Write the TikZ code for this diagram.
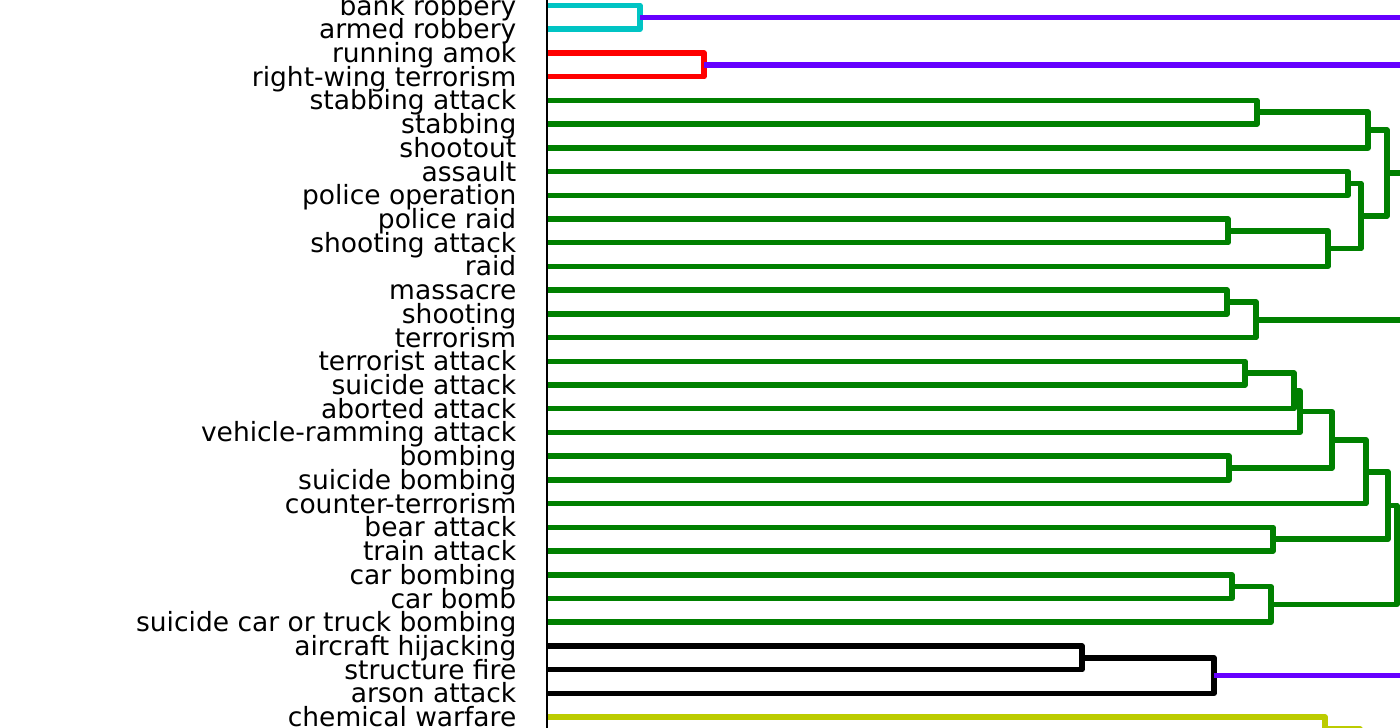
\documentclass[tikz,border=0pt]{standalone}
\usepackage{fontspec}
\setmainfont{DejaVu Sans}
\usetikzlibrary{calc}
\definecolor{dcyan}{RGB}{0,196,196}
\definecolor{dred}{RGB}{255,0,0}
\definecolor{dgreen}{RGB}{0,128,0}
\definecolor{dblack}{RGB}{0,0,0}
\definecolor{dyellow}{RGB}{188,204,0}
\definecolor{dpurple}{RGB}{102,0,255}
\newcommand\dlink[5]{%
  \path ($(#2)!0.5!(#3)$) coordinate (#5m) (#4,0) coordinate (#5x);
  \coordinate (#5) at (#5x |- #5m);
  \draw[link,#1] (#2) -- (#2 -| #5) -- (#3 -| #5) -- (#3);
}
\begin{document}
\begin{tikzpicture}[x=1pt,y=-1pt,
  link/.style={line width=5.5pt,line join=round,line cap=butt},
  lab/.style={anchor=base east,inner sep=0pt,font=\fontsize{26.5}{28}\selectfont}]
\useasboundingbox (0,0) rectangle (1400,728);
\clip (0,0) rectangle (1400,728);
\foreach \i in {0,...,31} \coordinate (L\i) at (547,{5.5+23.72*\i});
\foreach \t [count=\i from 0] in {bank robbery,armed robbery,running amok,right-wing terrorism,stabbing attack,stabbing,shootout,assault,police operation,police raid,shooting attack,raid,massacre,shooting,terrorism,terrorist attack,suicide attack,aborted attack,vehicle-ramming attack,bombing,suicide bombing,counter-terrorism,bear attack,train attack,car bombing,car bomb,suicide car or truck bombing,aircraft hijacking,structure fire,arson attack,chemical warfare}
  \node[lab] (t\i) at (516.5,{15+23.72*\i}) {\t};
\coordinate (E) at (1440,0);
% top clusters
\dlink{dcyan}{L0}{L1}{640}{mA}
\dlink{dred}{L2}{L3}{704}{mB}
\draw[link,dpurple] (mA) -- (mA -| E);
\draw[link,dpurple] (mB) -- (mB -| E);
% green block 1
\dlink{dgreen}{L4}{L5}{1257}{mC}
\dlink{dgreen}{mC}{L6}{1368}{mD}
\dlink{dgreen}{L7}{L8}{1348}{mE}
\dlink{dgreen}{L9}{L10}{1228}{mF}
\dlink{dgreen}{mF}{L11}{1328}{mG}
\dlink{dgreen}{mE}{mG}{1361}{mH}
\dlink{dgreen}{mD}{mH}{1387}{mI}
\draw[link,dgreen] (mI) -- (mI -| E);
% green block 2
\dlink{dgreen}{L12}{L13}{1227}{mJ}
\dlink{dgreen}{mJ}{L14}{1256}{mK}
\draw[link,dgreen] (mK) -- (mK -| E);
% green block 3
\dlink{dgreen}{L15}{L16}{1245}{mL}
\dlink{dgreen}{mL}{L17}{1294}{mM}
\dlink{dgreen}{mM}{L18}{1300}{mN}
\dlink{dgreen}{L19}{L20}{1229}{mO}
\dlink{dgreen}{mN}{mO}{1332}{mP}
\dlink{dgreen}{mP}{L21}{1366}{mQ}
\dlink{dgreen}{L22}{L23}{1273}{mR}
\dlink{dgreen}{mQ}{mR}{1388}{mS}
\dlink{dgreen}{L24}{L25}{1232}{mT}
\dlink{dgreen}{mT}{L26}{1271}{mU}
\dlink{dgreen}{mS}{mU}{1397}{mV}
\draw[link,dgreen] (mV) -- (mV -| E);
% black block
\dlink{dblack}{L27}{L28}{1082}{mW}
\dlink{dblack}{mW}{L29}{1214}{mX}
\draw[link,dpurple] (mX) -- (mX -| E);
% yellow block
\dlink{dyellow}{L30}{L31}{1325}{mY}
\coordinate (Yd) at (1360,770);
\draw[link,dyellow] (mY) -- (mY -| Yd) -- (Yd);
% axis spine
\coordinate (S0) at (547,0);
\coordinate (S1) at (547,728);
\draw[line width=2.5pt,black] (S0) -- (S1);
\end{tikzpicture}
\end{document}
